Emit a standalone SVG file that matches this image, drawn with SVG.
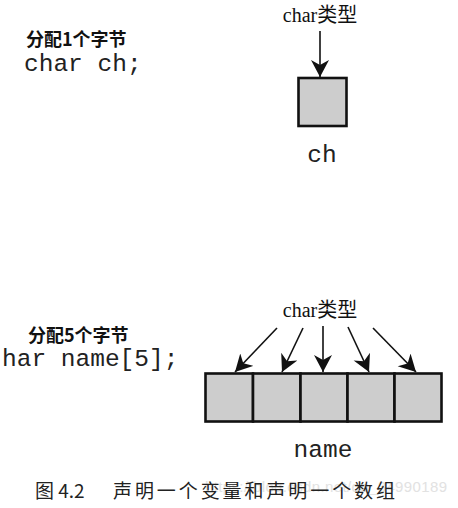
<svg xmlns="http://www.w3.org/2000/svg" width="458" height="508" viewBox="0 0 458 508">
<style>
.lbl{font-family:"Liberation Serif","Noto Sans CJK SC",serif;font-size:20px;fill:#111}
.bold{font-family:"Noto Sans CJK SC",sans-serif;font-weight:bold;font-size:18px;fill:#111}
.code{font-family:"Liberation Mono",monospace;font-size:24.5px;fill:#222}
.cell{fill:#cdcdcd;stroke:#111;stroke-width:2.6}
.arr{stroke:#111;stroke-width:1.6;fill:none;marker-end:url(#ah)}
.cap{font-family:"Noto Sans CJK SC",sans-serif;font-size:19px;fill:#222}
.wm{font-family:"Liberation Sans",sans-serif;font-size:15px;fill:#e2e2e2}
</style>
<defs>
<marker id="ah" markerUnits="userSpaceOnUse" markerWidth="20" markerHeight="20" refX="17" refY="9" orient="auto">
<path d="M0,0 L17,9 L0,18 L5,9 Z" fill="#111"/>
</marker>
</defs>
<g id="single">
<text class="bold" x="26" y="46">分配1个字节</text>
<text class="code" x="24" y="71">char ch;</text>
<text class="lbl" x="320" y="22" text-anchor="middle">char类型</text>
<rect class="cell" x="298.5" y="78" width="48" height="48"/>
<text class="code" x="322" y="162" text-anchor="middle">ch</text>
</g>
<g id="array">
<text class="bold" x="28" y="342">分配5个字节</text>
<text class="code" x="2" y="366">har name[5];</text>
<text class="lbl" x="320" y="317" text-anchor="middle">char类型</text>
<rect class="cell" x="205.5" y="373.5" width="47.5" height="48"/>
<rect class="cell" x="253" y="373.5" width="47.5" height="48"/>
<rect class="cell" x="300.5" y="373.5" width="47" height="48"/>
<rect class="cell" x="347.5" y="373.5" width="47" height="48"/>
<rect class="cell" x="394.5" y="373.5" width="47" height="48"/>
<text class="code" x="323" y="457" text-anchor="middle">name</text>
</g>
<g id="connectors">
<line class="arr" x1="320" y1="31" x2="320" y2="77"/>
<line class="arr" x1="277" y1="328" x2="235" y2="372"/>
<line class="arr" x1="303" y1="328" x2="282" y2="372"/>
<line class="arr" x1="323" y1="326" x2="323" y2="372"/>
<line class="arr" x1="348" y1="327" x2="369" y2="372"/>
<line class="arr" x1="373" y1="328" x2="416" y2="372"/>
</g>
<g id="caption">
<text class="wm" x="205" y="492" textLength="242">https://blog.csdn.net/qq_34990189</text>
<text class="cap" x="35" y="498">图 4.2</text>
<text class="cap" x="113" y="498" textLength="282">声明一个变量和声明一个数组</text>
</g>
</svg>
